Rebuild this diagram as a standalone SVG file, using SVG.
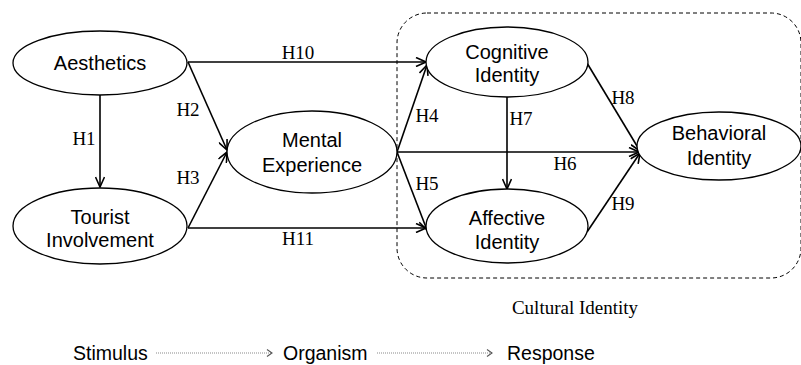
<svg xmlns="http://www.w3.org/2000/svg" width="801" height="365" viewBox="0 0 801 365">
<style>
.node ellipse{fill:#fff;stroke:#000;stroke-width:1.3}
.lbl{font-family:"Liberation Sans",Arial,sans-serif;font-size:20px;fill:#000;text-anchor:middle;dominant-baseline:central}
.h{font-family:"Liberation Serif","Times New Roman",serif;font-size:19px;fill:#000;text-anchor:middle;dominant-baseline:central}
.edge{stroke:#000;stroke-width:1.6;fill:none;marker-end:url(#arr)}
.sor{stroke:#8a8a8a;stroke-width:1.2;stroke-dasharray:1 1;fill:none;marker-end:url(#arr2)}
.bot{font-family:"Liberation Sans",Arial,sans-serif;font-size:19.5px;fill:#000;dominant-baseline:central}
</style>
<defs>
<marker id="arr" markerUnits="userSpaceOnUse" markerWidth="12" markerHeight="10" refX="11" refY="5" orient="auto">
<path d="M1,0.5 L11,5 L1,9.5" fill="none" stroke="#000" stroke-width="1.6"/>
</marker>
<marker id="arr2" markerUnits="userSpaceOnUse" markerWidth="10" markerHeight="10" refX="8" refY="5" orient="auto">
<path d="M3,1.5 L8,5 L3,8.5" fill="none" stroke="#555" stroke-width="1.1"/>
</marker>
</defs>
<rect x="397" y="13" width="404" height="265" rx="30" ry="30" fill="none" stroke="#000" stroke-width="1" stroke-dasharray="4 3"/>
<g id="connectors">
<line class="edge" x1="100" y1="95" x2="100" y2="187"/>
<line class="edge" x1="188" y1="62" x2="426" y2="62"/>
<line class="edge" x1="188" y1="62" x2="227" y2="150"/>
<line class="edge" x1="188" y1="228" x2="227" y2="152"/>
<line class="edge" x1="188" y1="228" x2="426" y2="228"/>
<line class="edge" x1="397" y1="152" x2="427" y2="65"/>
<line class="edge" x1="397" y1="152" x2="427" y2="230"/>
<line class="edge" x1="397" y1="152" x2="639" y2="152"/>
<line class="edge" x1="507" y1="97" x2="507" y2="189"/>
<line class="edge" x1="587" y1="63" x2="640" y2="151"/>
<line class="edge" x1="587" y1="232" x2="640" y2="153"/>
</g>
<g id="aesthetics" class="node"><ellipse cx="100" cy="63" rx="87" ry="32"/><text class="lbl" x="100" y="63">Aesthetics</text></g>
<g id="tourist" class="node"><ellipse cx="100" cy="226" rx="87" ry="38"/><text class="lbl" x="100" y="217">Tourist</text><text class="lbl" x="100" y="240">Involvement</text></g>
<g id="mental" class="node"><ellipse cx="312" cy="152" rx="85" ry="41"/><text class="lbl" x="312" y="140">Mental</text><text class="lbl" x="312" y="165">Experience</text></g>
<g id="cognitive" class="node"><ellipse cx="507" cy="62" rx="81" ry="35"/><text class="lbl" x="507" y="52">Cognitive</text><text class="lbl" x="507" y="75">Identity</text></g>
<g id="affective" class="node"><ellipse cx="507" cy="226" rx="81" ry="37"/><text class="lbl" x="507" y="218">Affective</text><text class="lbl" x="507" y="242">Identity</text></g>
<g id="behavioral" class="node"><ellipse cx="719" cy="146" rx="82" ry="34"/><text class="lbl" x="719" y="133">Behavioral</text><text class="lbl" x="719" y="158">Identity</text></g>
<g id="labels">
<text class="h" x="298" y="52">H10</text>
<text class="h" x="84" y="138">H1</text>
<text class="h" x="188" y="109">H2</text>
<text class="h" x="188" y="177">H3</text>
<text class="h" x="298" y="238">H11</text>
<text class="h" x="427" y="115">H4</text>
<text class="h" x="427" y="183">H5</text>
<text class="h" x="521" y="118">H7</text>
<text class="h" x="565" y="163">H6</text>
<text class="h" x="623" y="97">H8</text>
<text class="h" x="623" y="203">H9</text>
<text class="h" x="575" y="307">Cultural Identity</text>
</g>
<g id="sor">
<text class="bot" x="73" y="353">Stimulus</text>
<line class="sor" x1="156" y1="353" x2="272" y2="353"/>
<text class="bot" x="283" y="353">Organism</text>
<line class="sor" x1="377" y1="353" x2="492" y2="353"/>
<text class="bot" x="507" y="353">Response</text>
</g>
</svg>
